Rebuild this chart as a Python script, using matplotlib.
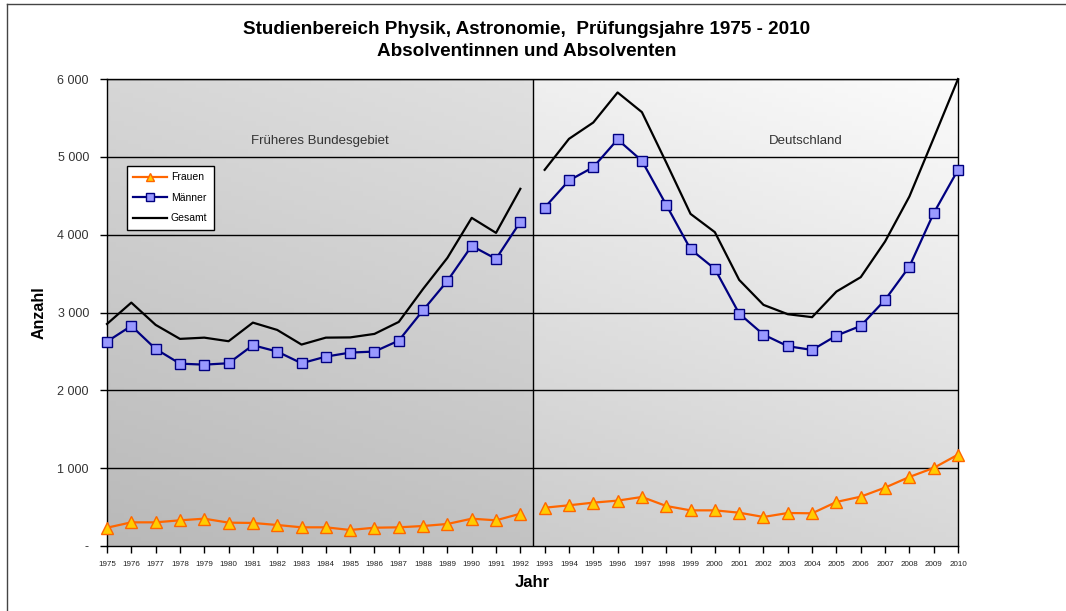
import numpy as np
import matplotlib
matplotlib.use("Agg")
import matplotlib.pyplot as plt
from matplotlib.ticker import FuncFormatter
from matplotlib.lines import Line2D
from matplotlib.colors import LinearSegmentedColormap

plt.rcParams['font.family'] = ['Liberation Sans', 'DejaVu Sans']

# Früheres Bundesgebiet 1975-1992
jahre_west = list(range(1975, 1993))
frauen_west = [235, 304, 304, 330, 351, 300, 296, 270, 240, 240, 206, 235, 240, 257, 283, 351, 330, 415]
maenner_west = [2626, 2828, 2532, 2343, 2330, 2348, 2580, 2498, 2348, 2433, 2485, 2498, 2639, 3029, 3406, 3856, 3689, 4165]
gesamt_west = [2853, 3127, 2841, 2661, 2677, 2631, 2870, 2776, 2588, 2677, 2680, 2725, 2879, 3303, 3702, 4216, 4023, 4589]

# Deutschland 1993-2010
jahre_ost = list(range(1993, 2011))
frauen_ost = [492, 523, 557, 583, 630, 514, 458, 458, 428, 373, 424, 420, 566, 634, 750, 887, 1003, 1174]
maenner_ost = [4348, 4696, 4867, 5223, 4949, 4383, 3813, 3560, 2986, 2716, 2567, 2519, 2703, 2828, 3162, 3590, 4276, 4833]
gesamt_ost = [4833, 5231, 5441, 5827, 5574, 4927, 4267, 4032, 3419, 3098, 2978, 2940, 3269, 3454, 3912, 4490, 5240, 5999]

fig = plt.figure(figsize=(10.66, 6.11), dpi=100)
ax = fig.add_axes([107/1066, 1-546/611, (958-107)/1066, (546-79)/611])

# Hintergrund mit Verlauf (links dunkler, rechts heller)
def verlauf(x0, x1, c_unten, c_oben):
    cmap = LinearSegmentedColormap.from_list('v', [c_unten, c_oben])
    yy, xx = np.mgrid[0:1:100j, 0:1:100j]
    g = 0.75 * yy + 0.25 * xx
    ax.imshow(g, cmap=cmap, extent=[x0, x1, 0, 6000], origin='lower',
              aspect='auto', zorder=0, vmin=0, vmax=1)

verlauf(1975, 1992.5, '#b9b9b9', '#e0e0e0')
verlauf(1992.5, 2010, '#cccccc', '#fbfbfb')

for y in range(1000, 7000, 1000):
    ax.axhline(y, color='black', lw=1, zorder=1)
ax.axvline(1992.5, color='black', lw=1, zorder=1)

ax.plot(jahre_west, frauen_west, color='#ff6600', lw=1.6, marker='^', ms=8,
        mfc='#ffcc00', mec='#ff6600', mew=1, zorder=3, clip_on=False, label='Frauen')
ax.plot(jahre_ost, frauen_ost, color='#ff6600', lw=1.6, marker='^', ms=8,
        mfc='#ffcc00', mec='#ff6600', mew=1, zorder=3, clip_on=False)
ax.plot(jahre_west, maenner_west, color='#000080', lw=1.6, marker='s', ms=7.5,
        mfc='#9999ff', mec='#000080', mew=1, zorder=3, clip_on=False, label='Männer')
ax.plot(jahre_ost, maenner_ost, color='#000080', lw=1.6, marker='s', ms=7.5,
        mfc='#9999ff', mec='#000080', mew=1, zorder=3, clip_on=False)
ax.plot(jahre_west, gesamt_west, color='black', lw=1.6, zorder=3, clip_on=False, label='Gesamt')
ax.plot(jahre_ost, gesamt_ost, color='black', lw=1.6, zorder=3, clip_on=False)

ax.set_xlim(1975, 2010)
ax.set_ylim(0, 6000)
ax.set_xticks(range(1975, 2011))
ax.set_xticklabels([str(j) for j in range(1975, 2011)], fontsize=5.8, color='#222222')
ax.set_yticks(range(0, 7000, 1000))
ax.yaxis.set_major_formatter(FuncFormatter(lambda v, p: '-' if v == 0 else '{:,.0f}'.format(v).replace(',', ' ')))
ax.tick_params(axis='y', labelsize=9, colors='black', labelcolor='#333333', length=5, width=1, pad=8)
ax.tick_params(axis='x', length=5, width=1, pad=6)
for s in ax.spines.values():
    s.set_color('black')
    s.set_linewidth(1)

ax.set_ylabel('Anzahl', fontsize=11.5, fontweight='bold', labelpad=8)
ax.set_xlabel('Jahr', fontsize=12, fontweight='bold', labelpad=5)

ax.text(1983.75, 5200, 'Früheres Bundesgebiet', fontsize=9.5, color='#333333', ha='center', va='center')
ax.text(2003.75, 5200, 'Deutschland', fontsize=9.5, color='#333333', ha='center', va='center')

leg = ax.legend(loc='upper left', bbox_to_anchor=(15/851, (546-161)/467), fontsize=7.5,
                frameon=True, fancybox=False, edgecolor='black', framealpha=1,
                handlelength=3.2, borderpad=0.6, labelspacing=1.0, handletextpad=0.4,
                markerscale=0.75)
leg.get_frame().set_linewidth(1)

fig.text(527/1066, 1-30/611, 'Studienbereich Physik, Astronomie,  Prüfungsjahre 1975 - 2010',
         fontsize=13.6, fontweight='bold', ha='center', va='center')
fig.text(527/1066, 1-51/611, 'Absolventinnen und Absolventen',
         fontsize=13.6, fontweight='bold', ha='center', va='center')

# Rahmen des Diagrammbereichs
fig.add_artist(Line2D([7/1066, 7/1066], [0, 1-4/611], color='#444444', lw=1))
fig.add_artist(Line2D([7/1066, 1], [1-4/611, 1-4/611], color='#444444', lw=1))

fig.savefig('out.png', dpi=100)
